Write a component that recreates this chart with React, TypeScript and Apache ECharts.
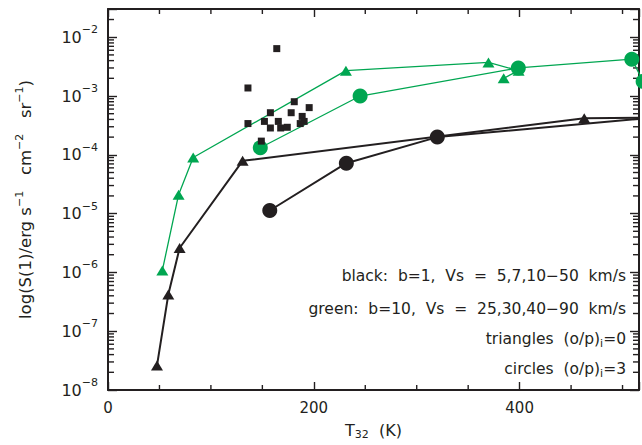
import React, { useEffect, useRef } from 'react';
import * as echarts from 'echarts';

// ---- tick labels / tick positions ----
const X_TICK_LABELS = [0, 200, 400];
const X_MINOR_TICKS = [50, 100, 150, 250, 300, 350, 450, 500];
const Y_DECADES = [-8, -7, -6, -5, -4, -3, -2];
const MINOR_FACTORS = [2, 3, 4, 5, 6, 7, 8, 9];

// ---- data: T32 (K) and S(1) (erg s-1 cm-2 sr-1) ----
// black: b=1, triangles (o/p)i=0
const blackTriT = [47.6, 58.6, 69.6, 130.8, 462.8, 560];
const blackTriS = [2.6e-8, 4.2e-7, 2.6e-6, 7.9e-5, 4.2e-4, 4.3e-4];
// black: b=1, circles (o/p)i=3
const blackCircT = [157.2, 231.6, 320, 560];
const blackCircS = [1.13e-5, 7.2e-5, 2.0e-4, 4.8e-4];
// green: b=10, triangles (o/p)i=0
const greenTriT = [52.8, 68.6, 82.8, 231.2, 369.7, 399, 384.5];
const greenTriS = [1.08e-6, 2.1e-5, 9.0e-5, 2.7e-3, 3.73e-3, 2.7e-3, 2.0e-3];
// green: b=10, circles (o/p)i=3
const greenCircT = [148, 245, 398.7, 509, 520];
const greenCircS = [1.32e-4, 1.0e-3, 3.0e-3, 4.24e-3, 1.77e-3];
// observations (black squares)
const obsT = [164, 136, 181, 195.5, 157.8, 178, 136, 152, 165.5, 188.7, 190.6, 186.8, 157.8, 167.8, 174.2, 149];
const obsS = [6.4e-3, 1.37e-3, 8.0e-4, 6.35e-4, 5.2e-4, 5.2e-4, 3.4e-4, 3.7e-4, 3.7e-4, 4.5e-4, 3.7e-4, 3.4e-4, 2.86e-4, 2.86e-4, 2.94e-4, 1.71e-4];

const X_MIN = 0;
const X_MAX = 516;
const Y_MIN_LOG = -8;
const Y_MAX_LOG = -1.52;

const INK = '#231f20';
const GREEN = '#00a651';
const FONT = 'DejaVu Sans';

const pairs = (xs: number[], ys: number[]) => xs.map((x, i) => [x, Math.log10(ys[i])]);

export default function App() {
  const ref = useRef<HTMLDivElement>(null);
  useEffect(() => {
    if (!ref.current) return;
    const chart = echarts.init(ref.current, null, { renderer: 'svg' });

    const yMinorLogs: number[] = [];
    Y_DECADES.forEach((d) => {
      MINOR_FACTORS.forEach((f) => {
        const lv = d + Math.log10(f);
        if (lv < Y_MAX_LOG) yMinorLogs.push(lv);
      });
    });

    const tickSeries = (data: number[][], size: number[], offset: number[]) => ({
      type: 'scatter', silent: true, clip: false, data, symbol: 'rect',
      symbolSize: size, symbolOffset: offset, z: 1,
      itemStyle: { color: INK, opacity: 1 },
    });

    const axisLine = { show: true, onZero: false, lineStyle: { color: INK, width: 2 } };
    const xTick = { show: true, inside: true, length: 8, lineStyle: { color: INK, width: 1.4 } };
    const yTick = { show: true, inside: true, length: 9, lineStyle: { color: INK, width: 1.4 } };

    const option: any = {
      animation: false,
      backgroundColor: '#ffffff',
      grid: { left: 108, top: 9, width: 535, height: 387.5 },
      xAxis: [
        {
          type: 'value', min: X_MIN, max: X_MAX, interval: 200, position: 'bottom',
          axisLine, axisTick: xTick, splitLine: { show: false },
          axisLabel: {
            formatter: (v: number) => (X_TICK_LABELS.includes(v) ? String(v) : ''),
            color: INK, fontSize: 15, fontFamily: FONT, margin: 10,
          },
          name: '{n|T}{s|32}{n|  (K)}', nameLocation: 'middle', nameGap: 30,
          nameTextStyle: {
            color: INK, fontFamily: FONT,
            rich: {
              n: { fontSize: 16, lineHeight: 20, fontFamily: FONT, color: INK },
              s: { fontSize: 11, lineHeight: 10, verticalAlign: 'bottom', fontFamily: FONT, color: INK },
            },
          },
        },
        {
          type: 'value', min: X_MIN, max: X_MAX, interval: 200, position: 'top',
          axisLine, axisTick: xTick, splitLine: { show: false },
          axisLabel: { show: false },
        },
      ],
      yAxis: [
        {
          type: 'value', min: Y_MIN_LOG, max: Y_MAX_LOG, interval: 1, position: 'left',
          axisLine, axisTick: yTick, splitLine: { show: false },
          axisLabel: {
            formatter: (v: number) => {
              const r = Math.round(v);
              if (Math.abs(v - r) > 1e-6) return '';
              return `{b|10}{e|${r < 0 ? '−' : ''}${Math.abs(r)}}`;
            },
            margin: 10,
            rich: {
              b: { fontSize: 16, lineHeight: 26, fontFamily: FONT, color: INK },
              e: { fontSize: 11, lineHeight: 11, verticalAlign: 'top', fontFamily: FONT, color: INK },
            },
          },
          name: '{n|log(S(1)/erg s}{e|−1}{n|   cm}{e|−2}{n|   sr}{e|−1}{n|)}',
          nameLocation: 'middle', nameGap: 72,
          nameTextStyle: {
            color: INK, fontFamily: FONT,
            rich: {
              n: { fontSize: 16.5, lineHeight: 22, fontFamily: FONT, color: INK },
              e: { fontSize: 11, lineHeight: 11, verticalAlign: 'top', fontFamily: FONT, color: INK },
            },
          },
        },
        {
          type: 'value', min: Y_MIN_LOG, max: Y_MAX_LOG, interval: 1, position: 'right',
          axisLine, axisTick: yTick, splitLine: { show: false }, axisLabel: { show: false },
        },
      ],
      series: [
        tickSeries(yMinorLogs.map((lv) => [X_MIN, lv]), [6, 1.4], [3, 0]),
        tickSeries(yMinorLogs.map((lv) => [X_MAX, lv]), [6, 1.4], [-3, 0]),
        tickSeries(X_MINOR_TICKS.map((x) => [x, Y_MIN_LOG]), [1.4, 5], [0, -2.5]),
        tickSeries(X_MINOR_TICKS.map((x) => [x, Y_MAX_LOG]), [1.4, 5], [0, 2.5]),
        {
          type: 'line', data: pairs(blackTriT, blackTriS), symbol: 'triangle', symbolSize: [12, 10],
          lineStyle: { color: INK, width: 2 }, itemStyle: { color: INK }, clip: false, z: 2,
        },
        {
          type: 'line', data: pairs(blackCircT, blackCircS), symbol: 'circle', symbolSize: 15,
          lineStyle: { color: INK, width: 2 }, itemStyle: { color: INK }, clip: false, z: 2,
        },
        {
          type: 'line', data: pairs(greenTriT, greenTriS), symbol: 'triangle', symbolSize: [12, 10],
          lineStyle: { color: GREEN, width: 1.3 }, itemStyle: { color: GREEN }, clip: false, z: 3,
        },
        {
          type: 'line', data: pairs(greenCircT, greenCircS), symbol: 'circle', symbolSize: 15,
          lineStyle: { color: GREEN, width: 1.3 }, itemStyle: { color: GREEN }, clip: false, z: 3,
        },
        {
          type: 'scatter', data: pairs(obsT, obsS), symbol: 'rect', symbolSize: 7,
          itemStyle: { color: INK, opacity: 1 }, z: 5,
        },
      ],
      graphic: [
        ['{n|black:  b=1,  Vs  =  5,7,10−50  km/s}', 276],
        ['{n|green:  b=10,  Vs  =  25,30,40−90  km/s}', 309],
        ['{n|triangles  (o/p)}{s|i}{n|=0}', 339],
        ['{n|circles  (o/p)}{s|i}{n|=3}', 369],
      ].map(([t, y]) => ({
        type: 'text', x: 626, y: y as number, z: 10,
        style: {
          text: t as string, align: 'right', verticalAlign: 'middle', fill: INK,
          fontFamily: FONT, fontSize: 15.5,
          rich: {
            n: { fontSize: 15.5, lineHeight: 20, fontFamily: FONT, fill: INK },
            s: { fontSize: 11, lineHeight: 10, verticalAlign: 'bottom', fontFamily: FONT, fill: INK },
          },
        },
      })),
    };
    chart.setOption(option);
    return () => chart.dispose();
  }, []);
  return <div ref={ref} style={{ position: 'absolute', left: 0, top: 0, width: 642, height: 445 }} />;
}
